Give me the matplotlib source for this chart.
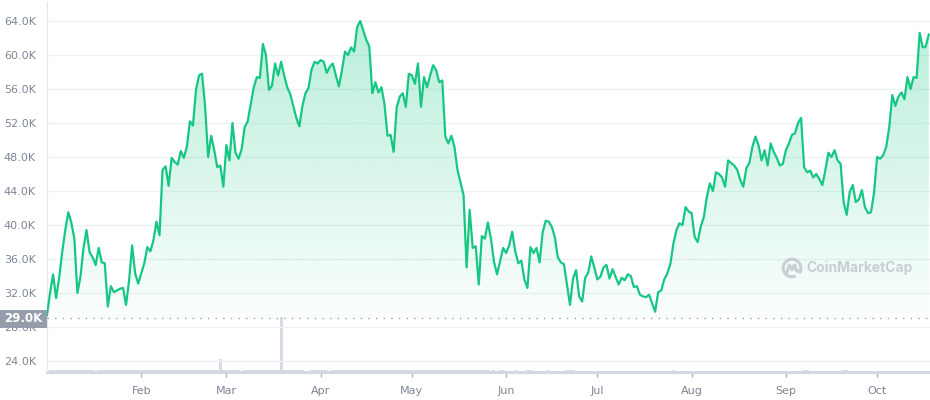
import numpy as np
import pandas as pd
import matplotlib
matplotlib.use("Agg")
from matplotlib import pyplot as plt
import matplotlib.dates as mdates
from matplotlib.patches import PathPatch, Rectangle, Arc
from matplotlib.transforms import blended_transform_factory

# daily BTC price, thousands of USD
jan = [29.4, 32.0, 34.2, 31.4, 33.8, 36.8, 39.4, 41.5, 40.3, 38.4, 32.0, 33.9, 37.3, 39.4, 36.8, 36.2,
       35.3, 37.3, 35.6, 35.5, 30.4, 32.8, 32.1, 32.3, 32.5, 32.6, 30.6, 33.5, 37.6, 34.3, 33.1]
feb = [34.3, 35.5, 37.4, 36.9, 38.2, 40.4, 38.8, 46.5, 46.9, 44.6, 47.9, 47.4, 47.1, 48.7, 47.9, 49.2,
       52.2, 51.7, 55.9, 57.6, 57.8, 53.9, 48.0, 50.5, 48.8, 46.8, 47.0, 44.5]
mar = [49.4, 47.6, 52.0, 48.5, 47.8, 48.9, 51.5, 52.2, 54.2, 56.2, 57.4, 57.3, 61.3, 60.0, 55.9, 56.4,
       59.0, 57.6, 59.2, 57.6, 56.2, 55.4, 54.0, 52.6, 51.6, 54.0, 55.5, 56.1, 58.3, 59.2, 59.0]
apr = [59.4, 59.2, 57.9, 58.6, 59.0, 57.6, 56.3, 58.2, 60.4, 60.0, 60.9, 60.4, 63.3, 64.0, 62.9, 61.8,
       61.0, 55.5, 56.8, 55.6, 56.2, 54.2, 50.5, 50.6, 48.6, 53.8, 55.1, 55.5, 53.9, 57.8]
may = [57.6, 56.6, 59.0, 53.9, 57.4, 56.2, 57.6, 58.8, 58.2, 56.8, 57.0, 50.4, 49.6, 50.5, 49.2, 46.5,
       45.0, 43.5, 35.0, 41.8, 37.3, 37.5, 33.0, 38.7, 38.4, 40.3, 38.4, 35.7, 34.2, 35.7, 37.3]
jun = [36.7, 37.6, 39.2, 36.9, 35.5, 35.8, 33.6, 32.6, 37.4, 36.7, 37.3, 35.6, 39.1, 40.5, 40.4, 39.8,
       38.6, 36.2, 35.6, 35.4, 33.0, 30.6, 33.7, 34.7, 31.6, 31.0, 33.8, 34.4, 36.3, 35.0]
jul = [33.6, 33.9, 35.0, 35.3, 33.7, 34.8, 33.9, 33.0, 33.8, 33.5, 34.2, 34.0, 32.7, 32.8, 31.8, 31.6,
       31.5, 31.8, 30.8, 29.8, 32.1, 32.3, 33.6, 34.3, 35.4, 37.8, 39.4, 40.2, 40.0, 42.1, 41.6]
aug = [41.4, 38.6, 38.0, 39.8, 40.9, 43.3, 44.9, 44.0, 46.2, 46.0, 45.6, 44.5, 47.6, 47.3, 47.0, 46.5,
       45.3, 44.5, 46.7, 47.3, 49.2, 50.4, 49.4, 47.6, 48.8, 47.0, 49.6, 48.6, 47.9, 47.0, 47.2]
sep = [48.8, 49.6, 50.6, 50.8, 52.0, 52.6, 46.8, 46.2, 46.4, 45.6, 46.0, 45.4, 44.7, 46.5, 48.5, 48.0,
       48.8, 47.6, 47.2, 42.7, 41.2, 43.9, 44.7, 42.7, 43.0, 44.1, 42.1, 41.4, 41.5, 43.8]
oct_ = [48.0, 47.8, 48.2, 49.2, 51.5, 55.3, 54.0, 55.1, 55.6, 54.8, 57.4, 56.0, 57.4, 57.3, 62.6, 60.9,
        61.0, 62.4]

# daily volume (relative units)
vol_jan = [44, 48, 50, 52, 48, 52, 52, 54, 48, 50, 58, 54, 50, 50, 50, 46, 44, 45, 46, 48, 50, 56, 48,
           45, 46, 47, 49, 50, 56, 48, 46]
vol_feb = [48, 48, 48, 51, 47, 49, 48, 55, 51, 50, 52, 50, 49, 46, 52, 50, 50, 49, 49, 51, 49, 48, 55,
           55, 48, 47, 250, 46]
vol_mar = [46, 46, 46, 47, 47, 44, 45, 46, 48, 47, 48, 49, 48, 45, 46, 47, 47, 46, 1000, 45, 45, 45,
           46, 48, 47, 46, 43, 44, 47, 47, 46]
vol_apr = [48, 48, 45, 44, 46, 47, 48, 46, 46, 46, 45, 46, 49, 50, 46, 48, 47, 52, 51, 48, 48, 48, 53,
           52, 50, 49, 47, 47, 46, 48]
vol_may = [46, 46, 47, 48, 48, 48, 47, 49, 48, 48, 50, 49, 54, 49, 49, 51, 54, 53, 58, 53, 53, 49, 49,
           49, 47, 46, 44, 45, 44, 45, 45]
vol_jun = [44, 44, 44, 45, 42, 42, 42, 46, 47, 44, 43, 42, 43, 44, 45, 44, 43, 43, 43, 43, 46, 49, 46,
           43, 43, 42, 41, 42, 43, 42]
vol_jul = [43, 41, 40, 38, 39, 42, 39, 40, 38, 37, 37, 39, 39, 40, 40, 40, 38, 38, 39, 41, 42, 40, 40,
           39, 39, 46, 44, 43, 40, 42, 41]
vol_aug = [40, 41, 40, 40, 42, 42, 44, 43, 44, 43, 42, 42, 42, 42, 42, 42, 44, 42, 43, 42, 40, 40, 42,
           42, 42, 42, 42, 39, 40, 42, 42]
vol_sep = [44, 43, 44, 42, 42, 42, 49, 47, 44, 43, 44, 42, 44, 43, 43, 42, 42, 42, 41, 46, 46, 44, 43,
           44, 42, 42, 42, 42, 42, 42]
vol_oct = [44, 43, 41, 42, 44, 44, 43, 42, 41, 42, 43, 44, 42, 43, 44, 43, 40, 44]

start_price = 29.0
yticks = [24, 28, 32, 36, 40, 44, 48, 52, 56, 60, 64]

prices = np.array(jan + feb + mar + apr + may + jun + jul + aug + sep + oct_)
volume = np.array(vol_jan + vol_feb + vol_mar + vol_apr + vol_may + vol_jun + vol_jul + vol_aug
                  + vol_sep + vol_oct)
dates = pd.date_range("2021-01-01", periods=len(prices), freq="D")
xnum = mdates.date2num(dates)

GREEN = "#16c784"
GREY_TXT = "#7d8595"
GRID = "#eff2f5"

W, H = 930, 400
fig = plt.figure(figsize=(W / 100, H / 100), dpi=100)
ax_l, ax_r, ax_b, ax_t = 47, 930, 373, 2
ax = fig.add_axes([ax_l / W, (H - ax_b) / H, (ax_r - ax_l) / W, (ax_b - ax_t) / H])

px_per_k = 8.5
ylo = 24 - (ax_b - 361) / px_per_k
yhi = 64 + (21 - ax_t) / px_per_k

# volume on its own hidden scale
axv = ax.twinx()
axv.bar(dates, volume, width=1.0, color="#d6dae4", linewidth=0, zorder=1)
axv.set_ylim(0, volume.max() * (ax_b - ax_t) / 56)
axv.axis("off")
axv.set_zorder(ax.get_zorder() - 1)
ax.patch.set_visible(False)

# gradient area above the starting price
poly = ax.fill_between(dates, prices, start_price, facecolor="none", edgecolor="none")
grad = np.zeros((256, 1, 4))
grad[:, 0, 0] = 22 / 255
grad[:, 0, 1] = 199 / 255
grad[:, 0, 2] = 132 / 255
grad[:, 0, 3] = np.linspace(0.02, 0.30, 256)
im = ax.imshow(grad, extent=[xnum[0], xnum[-1], start_price, prices.max()], origin="lower",
               aspect="auto", zorder=2, interpolation="bilinear")
clip = PathPatch(poly.get_paths()[0], transform=ax.transData, facecolor="none", edgecolor="none")
ax.add_patch(clip)
im.set_clip_path(clip)

ax.plot(dates, prices, color=GREEN, lw=1.6, zorder=4, solid_joinstyle="round")
ax.axhline(start_price, color="#9aa1ae", lw=1, linestyle=(0, (1, 4.5)), zorder=3)

ax.set_xlim(xnum[0], xnum[-1] + 0.4)
ax.set_ylim(ylo, yhi)
ax.set_yticks(yticks)
ax.set_yticklabels([f"{v:.1f}K" for v in yticks])
ax.grid(axis="y", color=GRID, lw=1)
ax.set_axisbelow(True)
ax.xaxis.set_major_locator(mdates.MonthLocator(bymonth=range(2, 11)))
ax.xaxis.set_major_formatter(mdates.DateFormatter("%b"))
ax.tick_params(axis="y", length=0, pad=8, labelsize=8, labelcolor=GREY_TXT)
ax.tick_params(axis="x", length=3, width=1, color="#a9afbb", pad=6, labelsize=8, labelcolor=GREY_TXT)
for s in ["top", "right"]:
    ax.spines[s].set_visible(False)
ax.spines["left"].set_color("#e3e6ec")
ax.spines["bottom"].set_color("#d3d7e2")
ax.spines["bottom"].set_linewidth(1.5)

# start price label box at left (it covers the top of the 28.0K label, as in the original)
bt = blended_transform_factory(fig.transFigure, ax.transData)
half = 9 / px_per_k
fig.add_artist(Rectangle((0, start_price - half), ax_l / W, 2 * half, transform=bt,
                         facecolor="#959cab", edgecolor="none", zorder=5))
fig.text(ax_l / W / 2, start_price, f"{start_price:.1f}K", transform=bt, ha="center", va="center",
         color="white", fontsize=8.5, fontweight="semibold", zorder=6)

# watermark
fig.text(806 / W, 1 - 268 / H, "CoinMarketCap", ha="left", va="center", fontsize=10,
         fontweight="bold", color="#c9ced6", family=["Inter", "DejaVu Sans"])
axl = fig.add_axes([781 / W, (H - 279) / H, 22 / W, 22 / H])
axl.set_xlim(-1.25, 1.25)
axl.set_ylim(-1.25, 1.25)
axl.set_aspect("equal")
axl.axis("off")
axl.add_patch(Arc((0, 0), 2.0, 2.0, theta1=-20, theta2=295, color="#c9ced6", lw=2.2))
axl.plot([-0.55, -0.3, 0.0, 0.3, 0.5, 0.9], [-0.45, 0.35, -0.2, 0.35, -0.3, -0.45],
         color="#c9ced6", lw=2.2, solid_joinstyle="round")

fig.savefig("out.png", dpi=100)
